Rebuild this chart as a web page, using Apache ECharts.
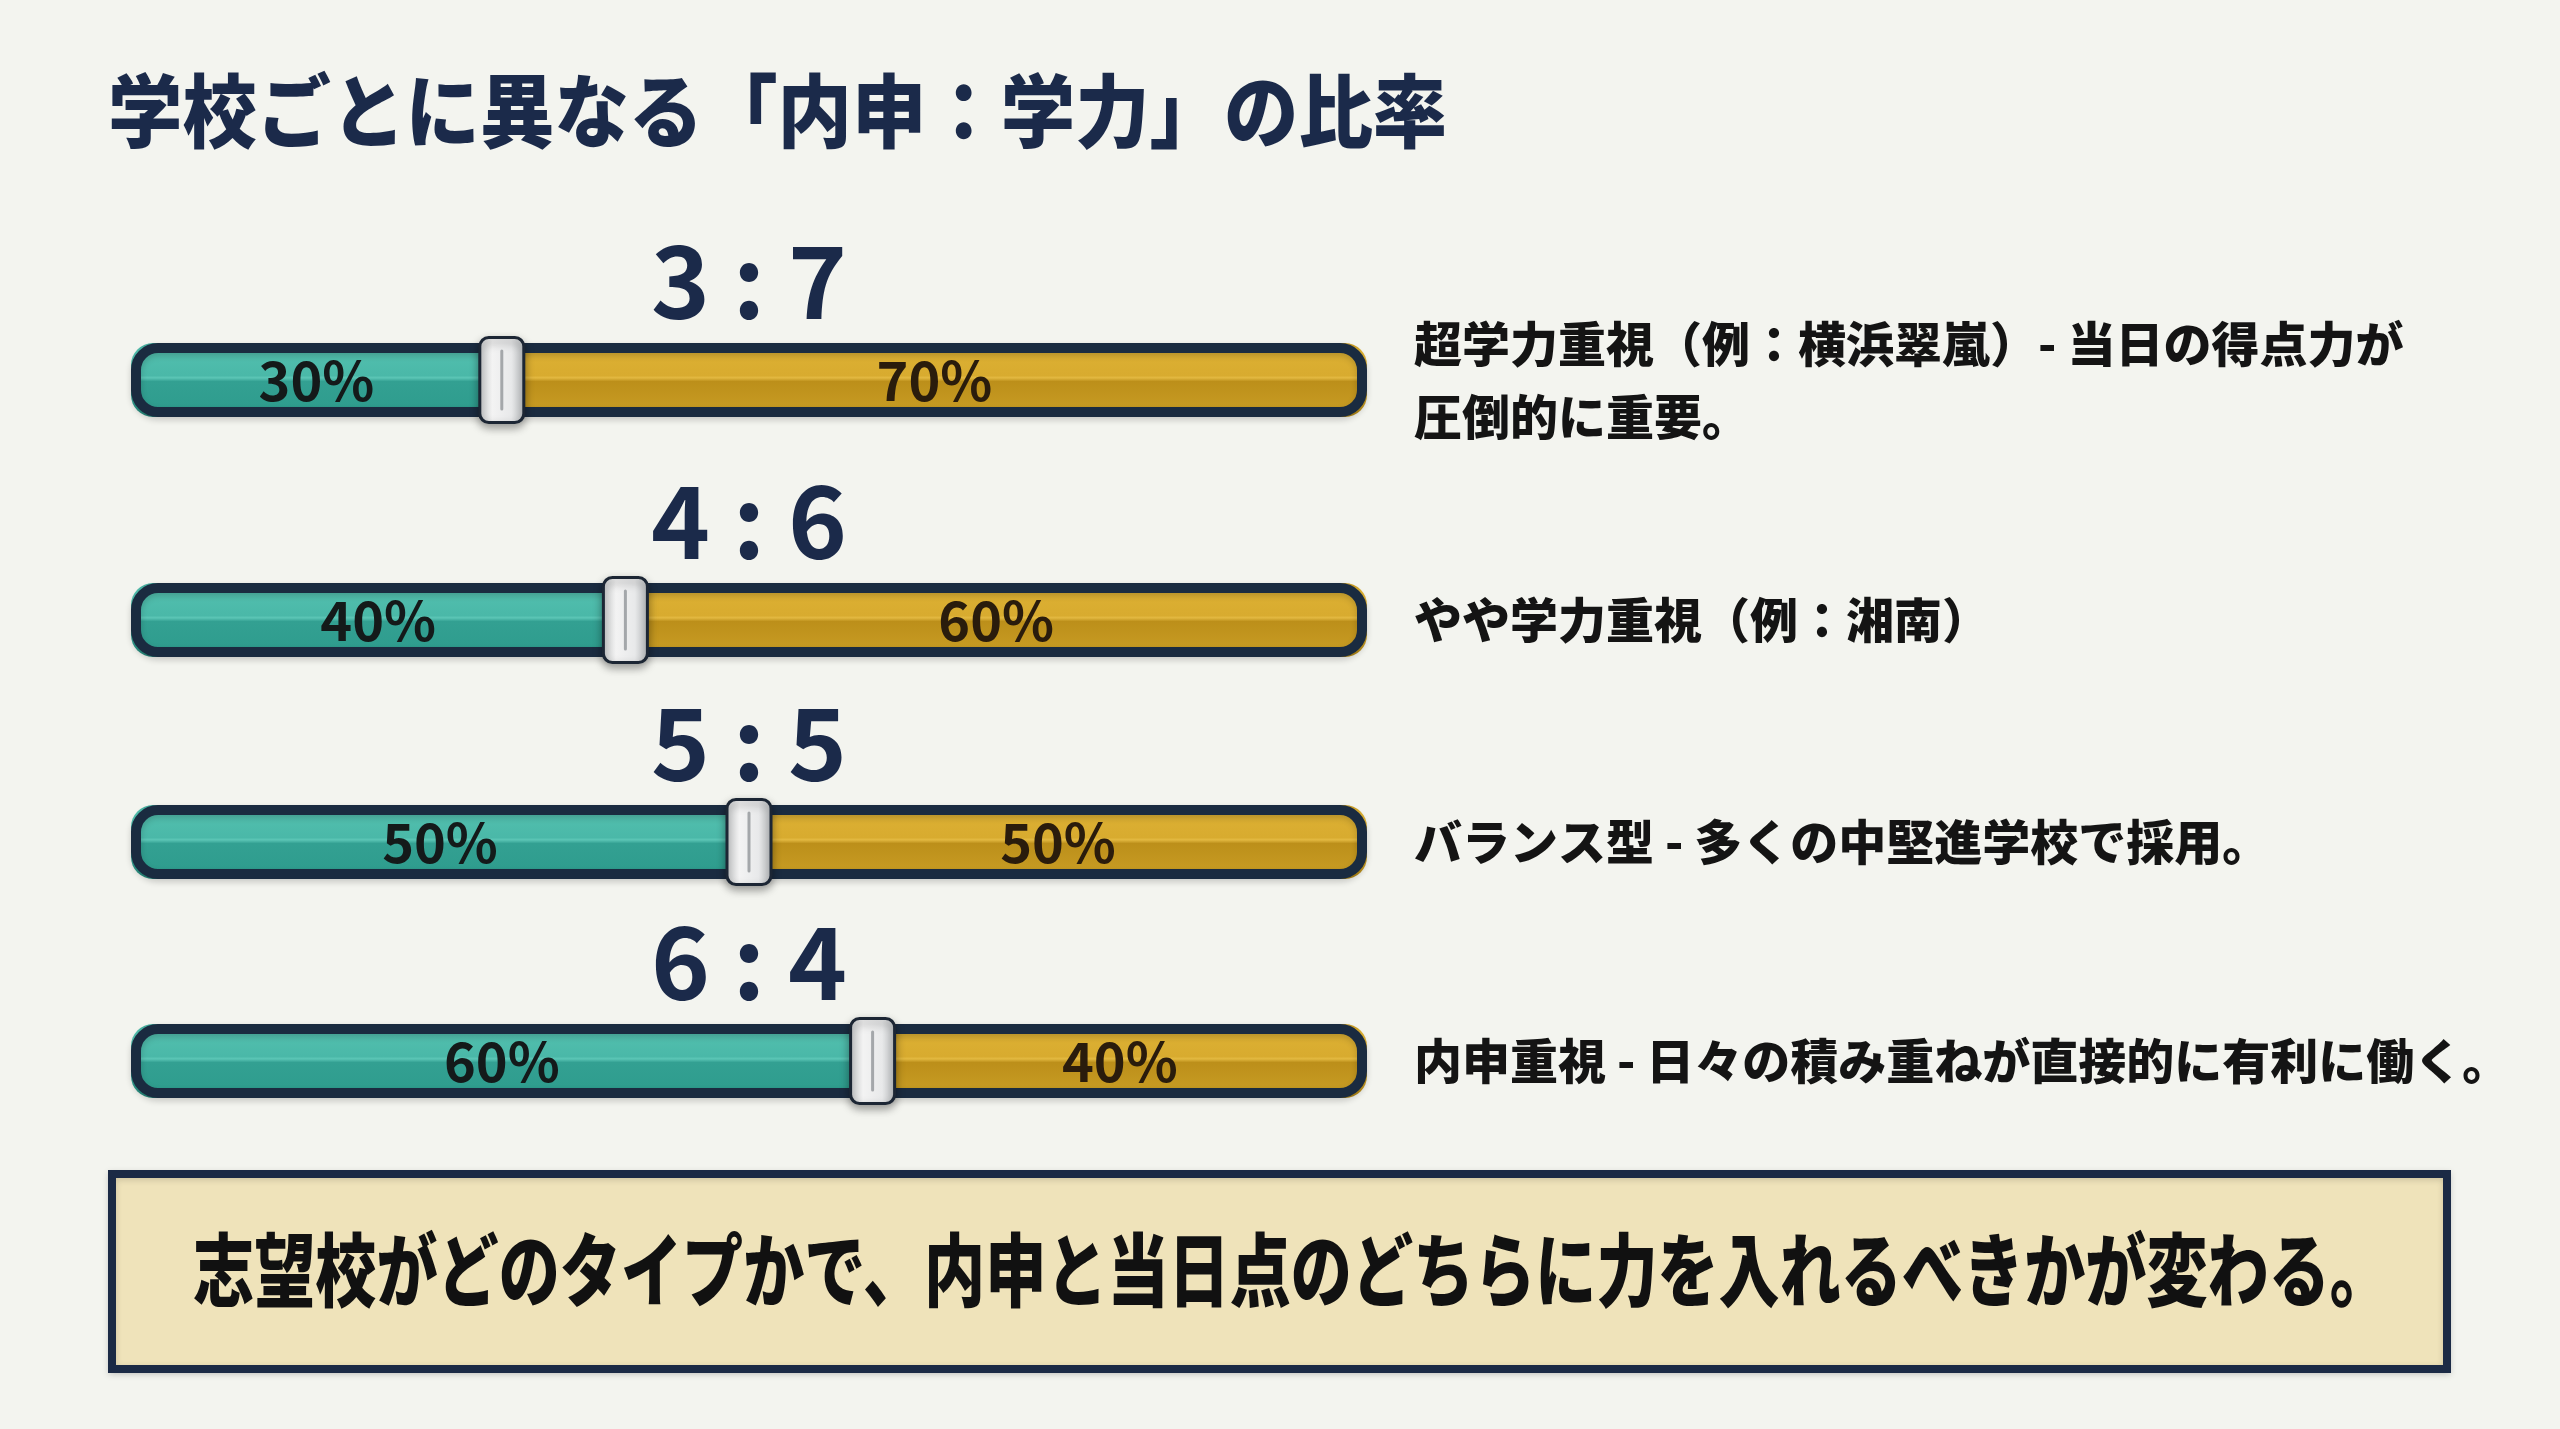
<!DOCTYPE html>
<html>
<head>
<meta charset="utf-8">
<script src="https://cdn.jsdelivr.net/npm/echarts@6/dist/echarts.min.js"></script>
<style>
html,body{margin:0;padding:0;background:#f3f4ef;}
#c{width:2560px;height:1429px;}
</style>
</head>
<body>
<div id="c"></div>
<script>
// ---- data ----
const titleText = '学校ごとに異なる「内申：学力」の比率';
const ratios = ['3 : 7', '4 : 6', '5 : 5', '6 : 4'];
const naishin = [30, 40, 50, 60];
const gakuryoku = [70, 60, 50, 40];
const descriptions = [
  '超学力重視（例：横浜翠嵐）- 当日の得点力が\n圧倒的に重要。',
  'やや学力重視（例：湘南）',
  'バランス型 - 多くの中堅進学校で採用。',
  '内申重視 - 日々の積み重ねが直接的に有利に働く。'
];
const summaryText = '志望校がどのタイプかで、内申と当日点のどちらに力を入れるべきかが変わる。';

// ---- layout / style ----
const FONT = '"Noto Sans CJK JP", "Noto Sans", sans-serif';
const NAVY = '#1b2a4a';
const rowCenters = [380, 620, 842, 1061];
const BAR_LEFT = 131, BAR_WIDTH = 1236, BAR_H = 74;

const tealGrad = new echarts.graphic.LinearGradient(0, 0, 0, 1, [
  {offset: 0, color: '#3fa99a'},
  {offset: 0.12, color: '#52bfae'},
  {offset: 0.44, color: '#4ab8a8'},
  {offset: 0.47, color: '#5cc6b6'},
  {offset: 0.52, color: '#33a092'},
  {offset: 0.85, color: '#2f9d8e'},
  {offset: 1, color: '#268577'}
]);
const yellowGrad = new echarts.graphic.LinearGradient(0, 0, 0, 1, [
  {offset: 0, color: '#c4971f'},
  {offset: 0.12, color: '#dcb033'},
  {offset: 0.44, color: '#d8ab2f'},
  {offset: 0.47, color: '#e3b941'},
  {offset: 0.52, color: '#bc8f1a'},
  {offset: 0.85, color: '#c69a22'},
  {offset: 1, color: '#ab8215'}
]);

const grids = [], xAxes = [], yAxes = [], series = [];
ratios.forEach((r, i) => {
  grids.push({left: BAR_LEFT, width: BAR_WIDTH, top: rowCenters[i] - BAR_H / 2, height: BAR_H, containLabel: false});
  xAxes.push({type: 'value', gridIndex: i, min: 0, max: 100, show: false});
  yAxes.push({
    type: 'category', gridIndex: i, data: [r], position: 'right',
    axisLine: {show: false}, axisTick: {show: false}, splitLine: {show: false},
    axisLabel: {
      show: true, margin: 47, align: 'left',
      formatter: () => descriptions[i],
      fontFamily: FONT, fontSize: 48, fontWeight: 900, color: '#141414', lineHeight: 73
    }
  });
  series.push({
    type: 'bar', xAxisIndex: i, yAxisIndex: i, stack: 'r' + i, data: [naishin[i]],
    barWidth: BAR_H, barGap: '-100%', z: 2,
    itemStyle: {color: tealGrad, borderRadius: [22, 0, 0, 22]},
    label: {show: true, position: 'inside', formatter: '{c}%', fontFamily: FONT, fontSize: 54, fontWeight: 'bold', color: '#141a1a'},
    emphasis: {disabled: true}
  });
  series.push({
    type: 'bar', xAxisIndex: i, yAxisIndex: i, stack: 'r' + i, data: [gakuryoku[i]],
    barWidth: BAR_H, barGap: '-100%', z: 2,
    itemStyle: {color: yellowGrad, borderRadius: [0, 22, 22, 0]},
    label: {show: true, position: 'inside', formatter: '{c}%', fontFamily: FONT, fontSize: 54, fontWeight: 'bold', color: '#2a1c0c'},
    emphasis: {disabled: true}
  });
  // track outline + ratio label
  series.push({
    type: 'bar', xAxisIndex: i, yAxisIndex: i, data: [naishin[i] + gakuryoku[i]],
    barWidth: BAR_H, barGap: '-100%', z: 3, silent: true,
    itemStyle: {color: 'rgba(0,0,0,0)', borderColor: '#1a2b40', borderWidth: 10, borderRadius: 22,
      shadowBlur: 6, shadowColor: 'rgba(0,0,0,0.18)', shadowOffsetY: 3},
    label: {show: true, position: 'top', distance: 12, formatter: '{b}',
      fontFamily: FONT, fontSize: 100, fontWeight: 'bold', color: NAVY},
    emphasis: {disabled: true}
  });
  // slider knob
  series.push({
    type: 'custom', xAxisIndex: i, yAxisIndex: i, z: 5, silent: true,
    data: [[naishin[i], 0]],
    encode: {x: 0, y: 1},
    renderItem: (params, api) => {
      const p = api.coord([api.value(0), api.value(1)]);
      const w = 44, h = 85;
      return {
        type: 'group',
        children: [
          {type: 'rect', shape: {x: p[0] - w / 2, y: p[1] - h / 2, width: w, height: h, r: 9},
            style: {
              fill: new echarts.graphic.LinearGradient(0, 0, 1, 0, [
                {offset: 0, color: '#c9cbcc'}, {offset: 0.3, color: '#f3f3f3'},
                {offset: 0.7, color: '#e8e9ea'}, {offset: 1, color: '#b9bcbe'}]),
              stroke: '#1c2634', lineWidth: 3,
              shadowBlur: 8, shadowColor: 'rgba(0,0,0,0.35)', shadowOffsetY: 4
            }},
          {type: 'line', shape: {x1: p[0], y1: p[1] - 29, x2: p[0], y2: p[1] + 29},
            style: {stroke: '#a4a7aa', lineWidth: 3, lineCap: 'round'}}
        ]
      };
    }
  });
});

const chart = echarts.init(document.getElementById('c'), null, {renderer: 'canvas'});
chart.setOption({
  backgroundColor: '#f3f4ef',
  animation: false,
  grid: grids,
  xAxis: xAxes,
  yAxis: yAxes,
  series: series,
  graphic: [
    {type: 'text', x: 108, y: 111, scaleX: 0.93, z: 10,
      style: {text: titleText, x: 0, y: 0, fontFamily: FONT, fontSize: 80, fontWeight: 900,
        fill: NAVY, textAlign: 'left', verticalAlign: 'middle'}},
    {type: 'rect', z: 1, shape: {x: 112, y: 1174, width: 2335, height: 195},
      style: {fill: '#efe3ba', stroke: '#1b2a45', lineWidth: 8,
        shadowBlur: 6, shadowColor: 'rgba(0,0,0,0.15)', shadowOffsetY: 2}},
    {type: 'text', x: 1292, y: 1270, scaleX: 0.764, z: 2,
      style: {text: summaryText, x: 0, y: 0, fontFamily: FONT, fontSize: 80, fontWeight: 900,
        fill: '#111111', textAlign: 'center', verticalAlign: 'middle'}}
  ]
});
</script>
</body>
</html>
